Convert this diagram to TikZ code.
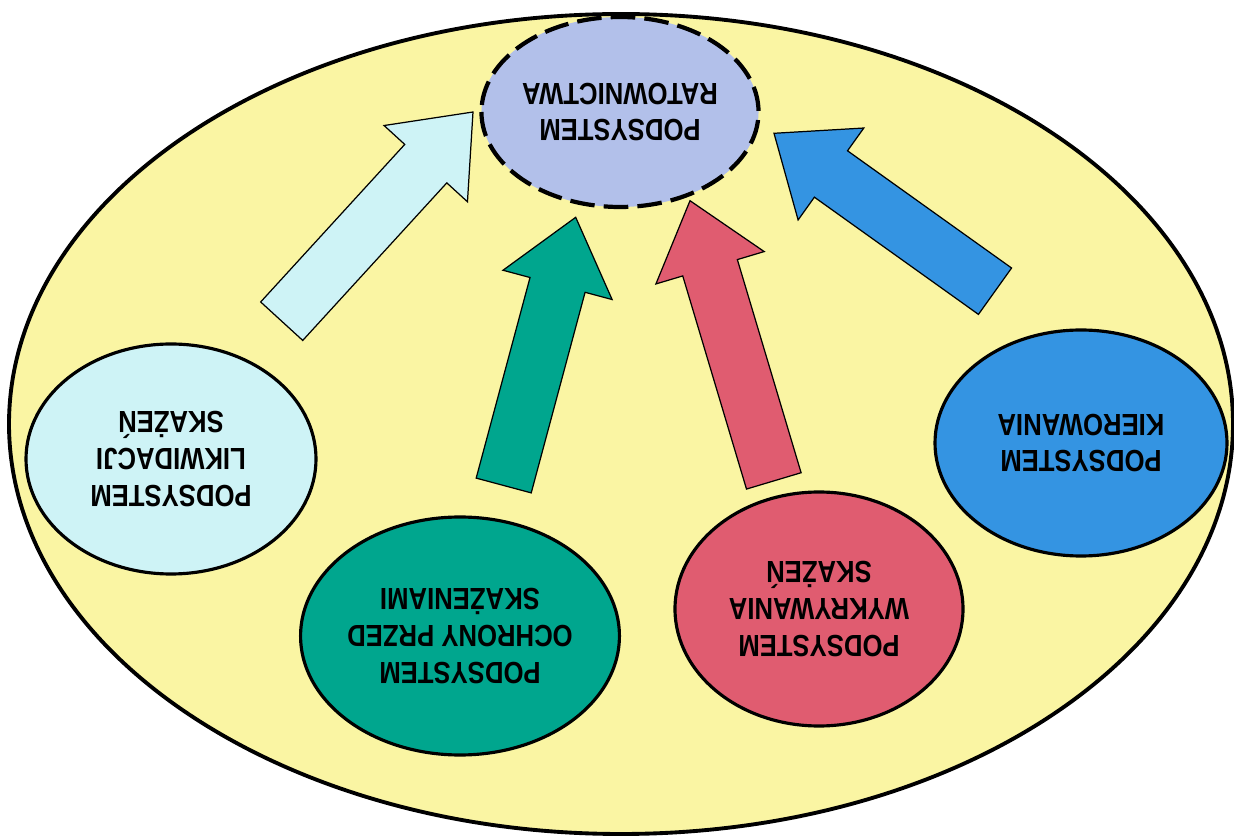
\documentclass[tikz,border=0pt]{standalone}
\usepackage{fontspec}
\newfontfamily\lblfont{Liberation Sans}[FakeStretch=0.84]
\usetikzlibrary{calc,shapes.geometric}

\definecolor{bgyellow}{RGB}{250,245,163}
\definecolor{ratblue}{RGB}{178,192,234}
\definecolor{likcyan}{RGB}{206,243,246}
\definecolor{ochteal}{RGB}{0,166,142}
\definecolor{wykred}{RGB}{224,92,112}
\definecolor{kirblue}{RGB}{52,148,226}

\tikzset{
  sub/.style={ellipse, draw=black, line width=0.9pt, inner sep=0pt,
    align=center, rotate=180,
    font=\lblfont\bfseries\fontsize{8.7}{10.5}\selectfont},
  blk/.style={draw=black, line width=0.35pt},
}

% block arrow: fill, tail, tip
\newcommand{\blockarrow}[3]{%
  \coordinate (h) at ($(#3)!7mm!(#2)$);
  \filldraw[blk, fill=#1] (#3)
    -- ($(h)!5.65mm!90:(#3)$) -- ($(h)!2.85mm!90:(#3)$)
    -- ($(#2)!2.85mm!90:(#3)$) -- ($(#2)!2.85mm!-90:(#3)$)
    -- ($(h)!2.85mm!-90:(#3)$) -- ($(h)!5.65mm!-90:(#3)$) -- cycle;
}

\begin{document}
\begin{tikzpicture}[x=0.1mm, y=-0.1mm]
  \useasboundingbox (0,0) rectangle (1234,837);

  \node [ellipse, draw=black, line width=1.1pt, fill=bgyellow,
    minimum width=122.4mm, minimum height=82mm] (system) at (621,424) {};

  \node [sub, fill=ratblue, line width=1.2pt, dash pattern=on 7pt off 2.6pt,
    minimum width=26.6mm, minimum height=19mm] (rat) at (620,112)
    {PODSYSTEM\\RATOWNICTWA};

  %%

  \node [sub, fill=likcyan, minimum width=29mm, minimum height=23mm] (lik)
    at (171,459) {PODSYSTEM\\LIKWIDACJI\\SKAŻEŃ};
  \node [sub, fill=ochteal, minimum width=29mm, minimum height=23.8mm] (och)
    at (460,636) {PODSYSTEM\\OCHRONY PRZED\\SKAŻENIAMI};
  \node [sub, fill=wykred, minimum width=28.8mm, minimum height=23.4mm] (wyk)
    at (819,609) {PODSYSTEM\\WYKRYWANIA\\SKAŻEŃ};
  \node [sub, fill=kirblue, minimum width=29.2mm, minimum height=22.6mm] (kir)
    at (1081,443) {PODSYSTEM\\KIEROWANIA};

  %%

  \coordinate (likTail) at (281.7,321.2);
  \coordinate (likTip) at (473,112);
  \coordinate (ochTail) at (503.7,485.5);
  \coordinate (ochTip) at (575.7,217.3);
  \coordinate (wykTail) at (773.8,480.9);
  \coordinate (wykTip) at (690,200.7);
  \coordinate (kirTail) at (995,291.2);
  \coordinate (kirTip) at (774,133.3);

  \blockarrow{likcyan}{likTail}{likTip}
  \blockarrow{ochteal}{ochTail}{ochTip}
  \blockarrow{wykred}{wykTail}{wykTip}
  \blockarrow{kirblue}{kirTail}{kirTip}

\end{tikzpicture}
\end{document}
